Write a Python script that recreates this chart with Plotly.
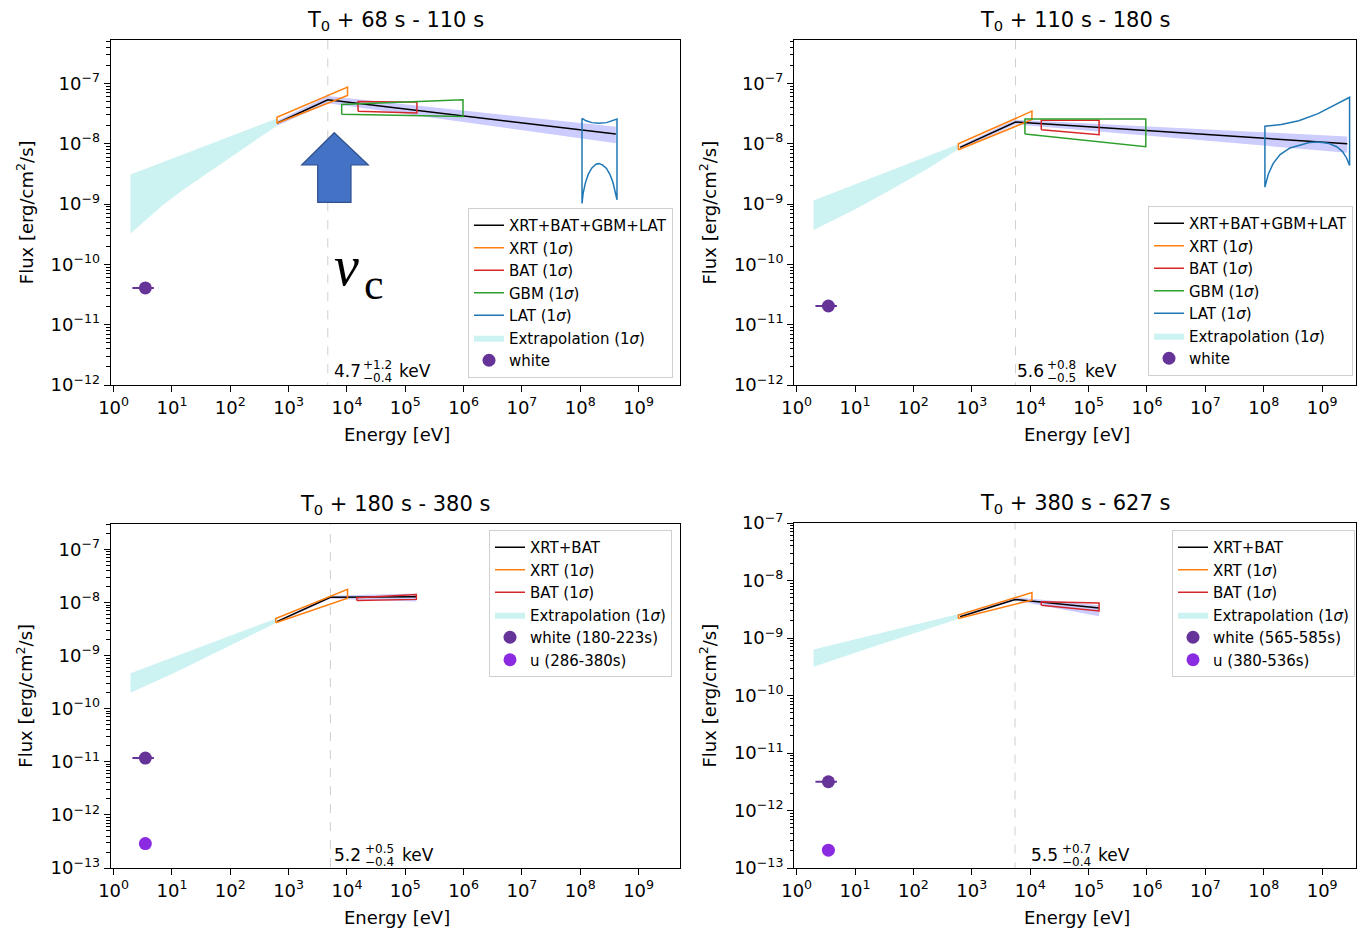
import numpy as np
import plotly.graph_objects as go

W, H = 1360, 930
FONT = "DejaVu Sans"

# ---------------- data (log10 energy [eV], log10 flux [erg/cm2/s]) ----------------
panel_titles = ["T<sub>0</sub> + 68 s - 110 s", "T<sub>0</sub> + 110 s - 180 s",
                "T<sub>0</sub> + 180 s - 380 s", "T<sub>0</sub> + 380 s - 627 s"]
break_keV = [4.7, 5.6, 5.2, 5.5]
break_err_hi = ["+1.2", "+0.8", "+0.5", "+0.7"]
break_err_lo = ["\u22120.4", "\u22120.5", "\u22120.4", "\u22120.4"]
fit_names = ["XRT+BAT+GBM+LAT", "XRT+BAT+GBM+LAT", "XRT+BAT", "XRT+BAT"]
white_names = ["white", "white", "white (180-223s)", "white (565-585s)"]
u_names = [None, None, "u (286-380s)", "u (380-536s)"]
y_ranges = [[-12, -6.28], [-12, -6.28], [-13, -6.52], [-13, -7.0]]
x_ranges = [[-0.05, 9.71], [-0.045, 9.58], [-0.05, 9.71], [-0.045, 9.58]]

# panel 1
p1_fit_ends = [2.80, 8.61]; p1_fit_logF = [-7.66, -7.27, -7.84]
p1_band_hi = [-7.62, -7.21, -7.72]; p1_band_lo = [-7.70, -7.33, -7.99]
p1_ext_hi_logE = [0.29, 2.80]; p1_ext_hi = [-8.51, -7.58]
p1_ext_lo_logE = [0.29, 0.55, 0.85, 1.20, 1.60, 2.06, 2.45, 2.80]
p1_ext_lo = [-9.49, -9.26, -9.01, -8.76, -8.49, -8.18, -7.93, -7.70]
p1_xrt_logE = [2.80, 4.01]; p1_xrt_hi = [-7.56, -7.06]; p1_xrt_lo = [-7.66, -7.20]
p1_bat_logE = [4.19, 5.20]; p1_bat_hi = [-7.30, -7.31]; p1_bat_lo = [-7.46, -7.49]
p1_gbm_logE = [3.91, 5.99]; p1_gbm_hi = [-7.35, -7.27]; p1_gbm_lo = [-7.51, -7.55]
p1_lat_hi_logE = [8.03, 8.10, 8.20, 8.32, 8.45, 8.55, 8.63]
p1_lat_hi = [-7.58, -7.62, -7.65, -7.66, -7.65, -7.62, -7.59]
p1_lat_lo_logE = [8.03, 8.05, 8.09, 8.14, 8.20, 8.27, 8.32, 8.38, 8.45, 8.51, 8.56, 8.60, 8.63]
p1_lat_lo = [-8.99, -8.82, -8.64, -8.50, -8.40, -8.34, -8.33, -8.35, -8.41, -8.51, -8.64, -8.79, -8.93]
p1_white_logF = -10.39

# panel 2
p2_fit_ends = [2.80, 9.43]; p2_fit_logF = [-8.06, -7.64, -8.00]
p2_band_hi = [-8.03, -7.60, -7.88]; p2_band_lo = [-8.09, -7.68, -8.15]
p2_ext_hi_logE = [0.29, 2.79]; p2_ext_hi = [-8.94, -8.00]
p2_ext_lo_logE = [0.29, 0.98, 1.62, 2.25, 2.79]; p2_ext_lo = [-9.43, -9.10, -8.76, -8.41, -8.08]
p2_xrt_logE = [2.77, 4.03]; p2_xrt_hi = [-8.00, -7.46]; p2_xrt_lo = [-8.10, -7.60]
p2_bat_logE = [4.19, 5.18]; p2_bat_hi = [-7.61, -7.61]; p2_bat_lo = [-7.77, -7.85]
p2_gbm_logE = [3.91, 5.98]; p2_gbm_hi = [-7.59, -7.59]; p2_gbm_lo = [-7.84, -8.05]
p2_lat_hi_logE = [8.02, 8.30, 8.60, 8.93, 9.15, 9.33, 9.47]
p2_lat_hi = [-7.71, -7.68, -7.62, -7.50, -7.39, -7.30, -7.23]
p2_lat_lo_logE = [8.02, 8.08, 8.16, 8.28, 8.45, 8.61, 8.78, 8.93, 9.10, 9.25, 9.35, 9.42, 9.47]
p2_lat_lo = [-8.72, -8.50, -8.33, -8.18, -8.07, -8.02, -7.98, -7.97, -7.99, -8.05, -8.13, -8.24, -8.36]
p2_white_logF = -10.69

# panel 3
p3_fit_ends = [2.80, 5.19]; p3_fit_logF = [-8.36, -7.90, -7.89]
p3_band_hi = [-8.34, -7.87, -7.83]; p3_band_lo = [-8.38, -7.93, -7.98]
p3_ext_hi_logE = [0.29, 2.79]; p3_ext_hi = [-9.33, -8.30]
p3_ext_lo_logE = [0.29, 1.09, 2.79]; p3_ext_lo = [-9.70, -9.30, -8.38]
p3_xrt_logE = [2.78, 4.01]; p3_xrt_hi = [-8.30, -7.75]; p3_xrt_lo = [-8.38, -7.92]
p3_bat_logE = [4.17, 5.19]; p3_bat_hi = [-7.91, -7.85]; p3_bat_lo = [-7.96, -7.94]
p3_white_logF = -10.93
p3_u_logF = -12.54

# panel 4
p4_fit_ends = [2.80, 5.18]; p4_fit_logF = [-8.63, -8.33, -8.48]
p4_band_hi = [-8.61, -8.29, -8.43]; p4_band_lo = [-8.65, -8.35, -8.62]
p4_ext_hi_logE = [0.29, 2.79]; p4_ext_hi = [-9.20, -8.58]
p4_ext_lo_logE = [0.29, 1.31, 2.79]; p4_ext_lo = [-9.50, -9.15, -8.66]
p4_xrt_logE = [2.77, 4.03]; p4_xrt_hi = [-8.60, -8.21]; p4_xrt_lo = [-8.66, -8.34]
p4_bat_logE = [4.19, 5.18]; p4_bat_hi = [-8.37, -8.39]; p4_bat_lo = [-8.43, -8.53]
p4_white_logF = -11.50
p4_u_logF = -12.69

uvot_E = 3.5        # eV
uvot_Eerr = 1.4     # eV

panels = [
    dict(fit_ends=p1_fit_ends, fit=p1_fit_logF, bhi=p1_band_hi, blo=p1_band_lo,
         ehx=p1_ext_hi_logE, eh=p1_ext_hi, elx=p1_ext_lo_logE, el=p1_ext_lo,
         xrt=(p1_xrt_logE, p1_xrt_lo, p1_xrt_logE, p1_xrt_hi),
         bat=(p1_bat_logE, p1_bat_lo, p1_bat_logE, p1_bat_hi),
         gbm=(p1_gbm_logE, p1_gbm_lo, p1_gbm_logE, p1_gbm_hi),
         lat=(p1_lat_lo_logE, p1_lat_lo, p1_lat_hi_logE, p1_lat_hi),
         white=p1_white_logF, u=None),
    dict(fit_ends=p2_fit_ends, fit=p2_fit_logF, bhi=p2_band_hi, blo=p2_band_lo,
         ehx=p2_ext_hi_logE, eh=p2_ext_hi, elx=p2_ext_lo_logE, el=p2_ext_lo,
         xrt=(p2_xrt_logE, p2_xrt_lo, p2_xrt_logE, p2_xrt_hi),
         bat=(p2_bat_logE, p2_bat_lo, p2_bat_logE, p2_bat_hi),
         gbm=(p2_gbm_logE, p2_gbm_lo, p2_gbm_logE, p2_gbm_hi),
         lat=(p2_lat_lo_logE, p2_lat_lo, p2_lat_hi_logE, p2_lat_hi),
         white=p2_white_logF, u=None),
    dict(fit_ends=p3_fit_ends, fit=p3_fit_logF, bhi=p3_band_hi, blo=p3_band_lo,
         ehx=p3_ext_hi_logE, eh=p3_ext_hi, elx=p3_ext_lo_logE, el=p3_ext_lo,
         xrt=(p3_xrt_logE, p3_xrt_lo, p3_xrt_logE, p3_xrt_hi),
         bat=(p3_bat_logE, p3_bat_lo, p3_bat_logE, p3_bat_hi),
         gbm=None, lat=None, white=p3_white_logF, u=p3_u_logF),
    dict(fit_ends=p4_fit_ends, fit=p4_fit_logF, bhi=p4_band_hi, blo=p4_band_lo,
         ehx=p4_ext_hi_logE, eh=p4_ext_hi, elx=p4_ext_lo_logE, el=p4_ext_lo,
         xrt=(p4_xrt_logE, p4_xrt_lo, p4_xrt_logE, p4_xrt_hi),
         bat=(p4_bat_logE, p4_bat_lo, p4_bat_logE, p4_bat_hi),
         gbm=None, lat=None, white=p4_white_logF, u=p4_u_logF),
]

# ---------------- layout geometry (pixels) ----------------
axes_px = [  # left, top, right, bottom
    (110.7, 40, 680, 385),
    (794, 40, 1356, 385),
    (110.7, 524, 680, 868),
    (794, 523, 1356, 868),
]
legend_px = [(673, 378, "bottom"), (1353, 376, "bottom"), (672, 530, "top"), (1355, 530, "top")]
kev_px = [  # main-left, sup-left, keV-left, y-center
    (333, 362, 398, 371), (1016, 1046, 1084, 371),
    (333, 364, 401, 855), (1030, 1061, 1097, 855),
]

def PX(x):
    return x / W

def PY(y):
    return 1 - y / H

def note(text, x, y, size, xanchor="center", family=FONT, **kw):
    return dict(text=text, x=PX(x), y=PY(y), xref="paper", yref="paper", showarrow=False,
                xanchor=xanchor, yanchor="middle", borderpad=0,
                font=dict(family=family, size=size, color="black"), **kw)

C_XRT, C_BAT, C_GBM, C_LAT = "#ff7f0e", "#d62728", "#2ca02c", "#1f77b4"
C_EXT = "rgba(0,191,191,0.2)"
C_BAND = "rgba(0,0,255,0.2)"
C_WHITE, C_U = "#663399", "#8a2be2"

def bowtie(xlo, ylo, xhi, yhi):
    xs = list(xlo) + list(xhi)[::-1] + [xlo[0]]
    ys = list(ylo) + list(yhi)[::-1] + [ylo[0]]
    return 10 ** np.array(xs), 10 ** np.array(ys)

fig = go.Figure()
annotations = []
layout = {}

for i, p in enumerate(panels):
    n = "" if i == 0 else str(i + 1)
    xa, ya, lg = "x" + n, "y" + n, "legend" + n
    brk = np.log10(break_keV[i] * 1000)
    fx = [p["fit_ends"][0], brk, p["fit_ends"][1]]

    ex = list(p["elx"]) + list(p["ehx"])[::-1]
    ey = list(p["el"]) + list(p["eh"])[::-1]
    fig.add_trace(go.Scatter(x=10 ** np.array(ex), y=10 ** np.array(ey), fill="toself",
                             fillcolor=C_EXT, mode="lines", line=dict(width=0, color=C_EXT),
                             name="Extrapolation (1<i>σ</i>)", legend=lg, legendrank=6,
                             xaxis=xa, yaxis=ya))
    bx = fx + fx[::-1]
    by = list(p["blo"]) + list(p["bhi"])[::-1]
    fig.add_trace(go.Scatter(x=10 ** np.array(bx), y=10 ** np.array(by), fill="toself",
                             fillcolor=C_BAND, mode="lines", line=dict(width=0, color=C_BAND),
                             showlegend=False, xaxis=xa, yaxis=ya))
    fig.add_trace(go.Scatter(x=[10 ** brk, 10 ** brk],
                             y=[10 ** (y_ranges[i][0] - 1), 10 ** (y_ranges[i][1] + 1)],
                             mode="lines", line=dict(color="#cfcfcf", width=1, dash="dash"),
                             showlegend=False, xaxis=xa, yaxis=ya))
    fig.add_trace(go.Scatter(x=10 ** np.array(fx), y=10 ** np.array(p["fit"]), mode="lines",
                             line=dict(color="black", width=1.5), name=fit_names[i],
                             legend=lg, legendrank=1, xaxis=xa, yaxis=ya))
    for key, col, nm, rk in [("xrt", C_XRT, "XRT", 2), ("bat", C_BAT, "BAT", 3),
                             ("gbm", C_GBM, "GBM", 4), ("lat", C_LAT, "LAT", 5)]:
        if p[key] is None:
            continue
        bxs, bys = bowtie(*p[key])
        fig.add_trace(go.Scatter(x=bxs, y=bys, mode="lines", line=dict(color=col, width=1.5),
                                 name=nm + " (1<i>σ</i>)", legend=lg, legendrank=rk,
                                 xaxis=xa, yaxis=ya))
    fig.add_trace(go.Scatter(x=[uvot_E], y=[10 ** p["white"]], mode="markers",
                             marker=dict(color=C_WHITE, size=13),
                             error_x=dict(type="data", array=[uvot_Eerr], color=C_WHITE,
                                          thickness=2, width=0),
                             name=white_names[i], legend=lg, legendrank=7, xaxis=xa, yaxis=ya))
    if p["u"] is not None:
        fig.add_trace(go.Scatter(x=[uvot_E], y=[10 ** p["u"]], mode="markers",
                                 marker=dict(color=C_U, size=13), name=u_names[i],
                                 legend=lg, legendrank=8, xaxis=xa, yaxis=ya))

    l, t, r, b = axes_px[i]
    yr = y_ranges[i]
    ymaj = list(range(int(np.ceil(yr[0])), int(np.floor(yr[1])) + 1))
    yminor = [m * 10.0 ** k for k in range(int(np.floor(yr[0])), int(np.ceil(yr[1])) + 1)
              for m in range(2, 10) if yr[0] <= np.log10(m * 10.0 ** k) <= yr[1]]
    common = dict(type="log", showgrid=False, zeroline=False, showline=True, mirror=True,
                  linecolor="black", linewidth=1, ticks="outside", ticklen=6, tickwidth=1,
                  tickcolor="black", automargin=False,
                  tickfont=dict(family=FONT, size=18, color="black"))
    layout["xaxis" + n] = dict(common, domain=[PX(l), PX(r)], range=x_ranges[i],
                               anchor=ya, tickmode="array",
                               tickvals=[10 ** k for k in range(0, 10)],
                               ticktext=["10<sup>%d</sup>" % k for k in range(0, 10)])
    layout["yaxis" + n] = dict(common, domain=[PY(b), PY(t)], range=yr, anchor=xa,
                               tickmode="array", tickvals=[10.0 ** k for k in ymaj],
                               ticktext=["10<sup>\u2212%d</sup>" % (-k) for k in ymaj],
                               minor=dict(ticks="outside", ticklen=3.5, tickwidth=0.8,
                                          tickcolor="black", tickvals=yminor, showgrid=False))
    lx, lyy, anc = legend_px[i]
    layout[lg] = dict(x=PX(lx), y=PY(lyy), xanchor="right", yanchor=anc,
                      bgcolor="rgba(255,255,255,0.85)", bordercolor="#d0d0d0", borderwidth=1,
                      font=dict(family=FONT, size=15, color="black"), itemwidth=30,
                      tracegroupgap=0)

    cx = (l + r) / 2
    annotations.append(note(panel_titles[i], cx, t - 19, 21))
    annotations.append(note("Energy [eV]", cx + 2, b + 49, 18))
    annotations.append(note("Flux [erg/cm<sup>2</sup>/s]", l - 86, (t + b) / 2, 18, textangle=-90))
    mx, sx, kx, kyc = kev_px[i]
    annotations.append(note("%.1f" % break_keV[i], mx, kyc, 17, xanchor="left"))
    annotations.append(note(break_err_hi[i], sx, kyc - 6, 12, xanchor="left"))
    annotations.append(note(break_err_lo[i], sx, kyc + 7, 12, xanchor="left"))
    annotations.append(note("keV", kx, kyc, 17, xanchor="left"))

# nu_c label and arrow (top-left panel)
annotations.append(note("<i>ν</i>", 346, 266, 56, family="Liberation Serif"))
annotations.append(note("c", 374, 284, 44, family="Liberation Serif"))
arrow_pts = [(334.3, 132.7), (368.3, 165), (351, 165), (351, 202.3), (317.7, 202.3),
             (317.7, 165), (301.7, 165)]
path = "M " + " L ".join("%.5f,%.5f" % (PX(x), PY(y)) for x, y in arrow_pts) + " Z"
shapes = [dict(type="path", path=path, xref="paper", yref="paper", fillcolor="#4472c4",
               line=dict(color="#2f528f", width=1.2))]

fig.update_layout(width=W, height=H, margin=dict(l=0, r=0, t=0, b=0, pad=0, autoexpand=False),
                  paper_bgcolor="white", plot_bgcolor="white", showlegend=True,
                  annotations=annotations, shapes=shapes, **layout)
fig.write_html("out.html")
